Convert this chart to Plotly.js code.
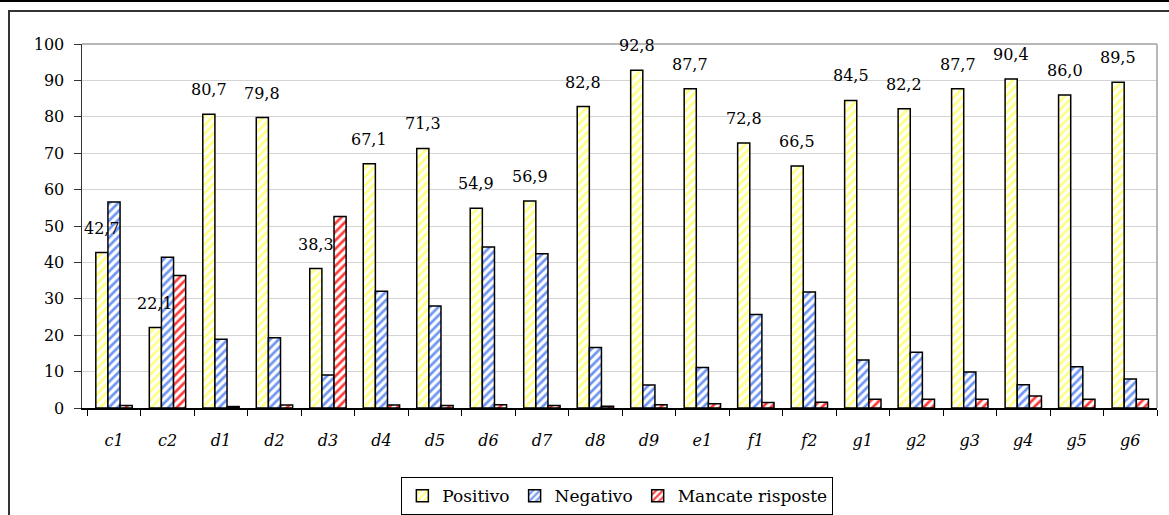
<!DOCTYPE html>
<html>
<head>
<meta charset="utf-8">
<script src="https://cdn.plot.ly/plotly-3.0.1.min.js"></script>
<style>
  html, body { margin: 0; padding: 0; background: #ffffff; }
  #wrap { position: relative; width: 1169px; height: 515px; overflow: hidden; }
  #topline { position: absolute; left: 0; top: 0; width: 1169px; height: 2px; background: #000; }
  #frame { position: absolute; left: 8px; top: 10px; width: 1200px; height: 560px; border: 2px solid #333; box-sizing: border-box; }
  #chart { position: absolute; left: 0; top: 0; width: 1169px; height: 515px; }
</style>
</head>
<body>
<div id="wrap">
  <div id="topline"></div>
  <div id="frame"></div>
  <div id="chart"></div>
</div>
<script>
const categories = ["c1","c2","d1","d2","d3","d4","d5","d6","d7","d8","d9","e1","f1","f2","g1","g2","g3","g4","g5","g6"];
const positivo = [42.7, 22.1, 80.7, 79.8, 38.3, 67.1, 71.3, 54.9, 56.9, 82.8, 92.8, 87.7, 72.8, 66.5, 84.5, 82.2, 87.7, 90.4, 86.0, 89.5];
const negativo = [56.6, 41.4, 18.9, 19.3, 9.1, 32.1, 28.0, 44.2, 42.4, 16.6, 6.3, 11.1, 25.7, 31.9, 13.2, 15.3, 9.9, 6.4, 11.3, 8.0];
const mancate  = [0.7, 36.4, 0.4, 0.8, 52.6, 0.8, 0.7, 0.9, 0.7, 0.5, 0.9, 1.2, 1.5, 1.6, 2.4, 2.4, 2.4, 3.3, 2.4, 2.4];
const seriesNames = ["Positivo", "Negativo", "Mancate risposte"];

const FONT = "'DejaVu Serif', 'Liberation Serif', serif";

function barTrace(name, values, fg) {
  return {
    type: "bar",
    name: name,
    x: categories,
    y: values,
    marker: {
      color: "#ffffff",
      line: { color: "#000000", width: 1.5 },
      pattern: { shape: "/", fgcolor: fg, bgcolor: "#ffffff", size: 6, solidity: 0.45 }
    },
    hoverinfo: "x+y"
  };
}

const data = [
  barTrace(seriesNames[0], positivo, "#ffff80"),
  barTrace(seriesNames[1], negativo, "#6f96f2"),
  barTrace(seriesNames[2], mancate, "#ff3b3b")
];

const annotations = categories.map((c, i) => ({
  x: c, y: positivo[i], xref: "x", yref: "y",
  text: positivo[i].toFixed(1).replace(".", ","),
  showarrow: false, yanchor: "bottom", xanchor: "center",
  xshift: -12, yshift: 13,
  font: { family: FONT, size: 16, color: "#000" }
}));

const layout = {
  width: 1169, height: 515,
  margin: { l: 82, r: 12, t: 44, b: 107, autoexpand: false },
  paper_bgcolor: "rgba(0,0,0,0)",
  plot_bgcolor: "#ffffff",
  barmode: "group",
  bargap: 0.32,
  bargroupgap: 0,
  showlegend: true,
  legend: {
    orientation: "h",
    x: 0.498, xanchor: "center",
    y: -0.19, yanchor: "top",
    bordercolor: "#000", borderwidth: 1,
    bgcolor: "#ffffff",
    font: { family: FONT, size: 17, color: "#000" },
    itemclick: false
  },
  xaxis: {
    type: "category",
    showline: true, linecolor: "#000", linewidth: 1.5,
    ticks: "outside", tickson: "boundaries", ticklen: 6, tickcolor: "#000", tickwidth: 1,
    tickfont: { family: FONT, size: 16, color: "#000", style: "italic" },
    ticklabelstandoff: 17,
    showgrid: false, zeroline: false, fixedrange: true
  },
  yaxis: {
    range: [0, 100], dtick: 10, tick0: 0,
    showline: true, linecolor: "#333", linewidth: 1.5,
    ticks: "outside", ticklen: 7, tickcolor: "#333", tickwidth: 1,
    tickfont: { family: FONT, size: 16, color: "#000" },
    ticklabelstandoff: 6,
    showgrid: true, gridcolor: "#d4d4d4", gridwidth: 1,
    zeroline: false, fixedrange: true
  },
  shapes: [
    { type: "line", xref: "paper", yref: "paper", x0: 0, x1: 1, y0: 1, y1: 1, line: { color: "#a0a0a0", width: 1.5 } },
    { type: "line", xref: "paper", yref: "paper", x0: 1, x1: 1, y0: 0, y1: 1, line: { color: "#a0a0a0", width: 1.5 } }
  ],
  annotations: annotations,
  font: { family: FONT, color: "#000" }
};

Plotly.newPlot("chart", data, layout, { displayModeBar: false, staticPlot: true });
</script>
</body>
</html>
